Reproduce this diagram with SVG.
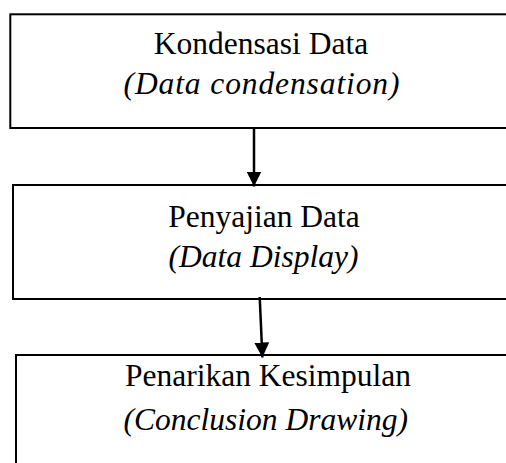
<svg xmlns="http://www.w3.org/2000/svg" width="506" height="463" viewBox="0 0 506 463">
<style>
.box{fill:#fff;stroke:#000;stroke-width:2}
.t{font-family:"Liberation Serif","Times New Roman",serif;font-size:31.5px;fill:#000;text-anchor:middle}
.i{font-style:italic}
.c{stroke:#000;stroke-width:2.5;fill:none}
</style>
<defs>
<marker id="ah" viewBox="0 0 10 10" refX="10" refY="5" markerWidth="6" markerHeight="6" markerUnits="strokeWidth" orient="auto">
<path d="M0,0 L10,5 L0,10 Z" fill="#000"/>
</marker>
</defs>
<rect width="506" height="463" fill="#fff"/>
<g id="node1">
<rect class="box" x="10.3" y="14.3" width="520" height="113.7"/>
<text class="t" x="261" y="54">Kondensasi Data</text>
<text class="t i" x="261.5" y="94" textLength="276" lengthAdjust="spacing">(Data condensation)</text>
</g>
<g id="node2">
<rect class="box" x="13" y="185" width="520" height="114"/>
<text class="t" x="264" y="227">Penyajian Data</text>
<text class="t i" x="263.5" y="266.5">(Data Display)</text>
</g>
<g id="node3">
<rect class="box" x="16" y="355" width="520" height="130"/>
<text class="t" x="268" y="385.5">Penarikan Kesimpulan</text>
<text class="t i" x="265.8" y="430">(Conclusion Drawing)</text>
</g>
<g id="connectors">
<line class="c" x1="254" y1="128" x2="254" y2="186.5" marker-end="url(#ah)"/>
<line class="c" x1="259.7" y1="297" x2="262.4" y2="357.5" marker-end="url(#ah)"/>
</g>
</svg>
